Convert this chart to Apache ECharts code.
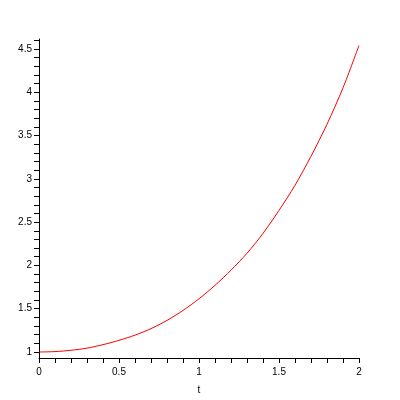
<!DOCTYPE html>
<html>
<head>
<meta charset="utf-8">
<script src="https://cdn.jsdelivr.net/npm/echarts@6/dist/echarts.min.js"></script>
<style>html,body{margin:0;padding:0;background:#fff}#c{width:400px;height:400px}</style>
</head>
<body>
<div id="c"></div>
<script>
var tValues = [0, 0.1, 0.2, 0.3, 0.4, 0.5, 0.6, 0.7, 0.8, 0.9, 1.0, 1.1, 1.2, 1.3, 1.4, 1.5, 1.6, 1.7, 1.8, 1.9, 2.0];
var yValues = [1.00, 1.005, 1.02, 1.045, 1.085, 1.135, 1.195, 1.27, 1.365, 1.48, 1.615, 1.77, 1.945, 2.14, 2.37, 2.635, 2.925, 3.26, 3.63, 4.05, 4.54];
var xLabelValues = [0, 0.5, 1, 1.5, 2];
var yLabelValues = [1, 1.5, 2, 2.5, 3, 3.5, 4, 4.5];
var xTickValues = [];
for (var i = 0; i <= 20; i++) xTickValues.push(+(i * 0.1).toFixed(1));
var yTickValues = [];
for (var j = 10; j <= 46; j++) yTickValues.push(+(j * 0.1).toFixed(1));

var data = tValues.map(function (t, i) { return [t, yValues[i]]; });
var font = 'Liberation Sans, Arial, sans-serif';
var chart = echarts.init(document.getElementById('c'), null, {renderer: 'canvas'});
chart.setOption({
  animation: false,
  backgroundColor: '#ffffff',
  grid: {left: 39, right: 41, top: 39, bottom: 41, containLabel: false},
  xAxis: {
    type: 'value', min: 0, max: 2,
    name: 't', nameLocation: 'middle', nameGap: 27,
    nameTextStyle: {color: '#000', fontSize: 10, fontFamily: font},
    axisLine: {show: true, onZero: false, lineStyle: {color: '#000', width: 1}},
    axisTick: {show: true, inside: false, length: 5, customValues: xTickValues, lineStyle: {color: '#000'}},
    axisLabel: {
      color: '#000', fontSize: 10, margin: 9, fontFamily: font,
      customValues: xLabelValues,
      formatter: function (v) { return String(v); }
    },
    splitLine: {show: false}
  },
  yAxis: {
    type: 'value', min: 0.931, max: 4.614,
    axisLine: {show: true, onZero: false, lineStyle: {color: '#000', width: 1}},
    axisTick: {show: true, inside: false, length: 5, customValues: yTickValues, lineStyle: {color: '#000'}},
    axisLabel: {
      color: '#000', fontSize: 10, margin: 7, fontFamily: font,
      customValues: yLabelValues,
      formatter: function (v) { return String(v); }
    },
    splitLine: {show: false}
  },
  series: [{
    type: 'line', data: data, showSymbol: false, smooth: 0.3,
    lineStyle: {color: '#ff0000', width: 1},
    itemStyle: {color: '#ff0000'}
  }]
});
</script>
</body>
</html>
